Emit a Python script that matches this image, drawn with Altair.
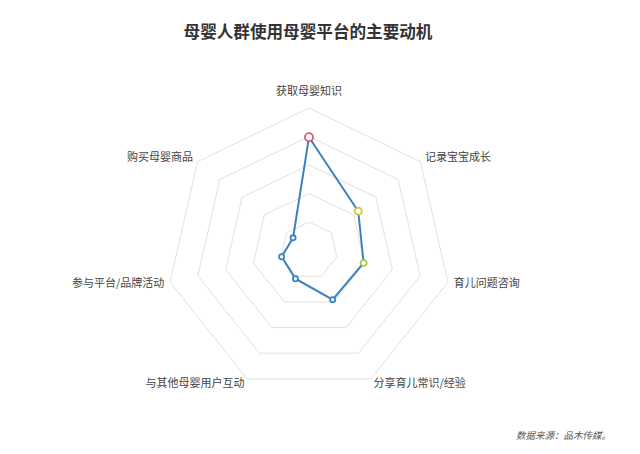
import altair as alt
import pandas as pd

# ---- data ----
categories = ["获取母婴知识", "记录宝宝成长", "育儿问题咨询", "分享育儿常识/经验",
              "与其他母婴用户互动", "参与平台/品牌活动", "购买母婴商品"]
values = [79.5, 44.2, 39.3, 38.3, 22.0, 19.7, 14.3]
marker_colors = ["#dc5a78", "#c9c93c", "#a9c94e", "#3b84c0", "#3b84c0", "#3b84c0", "#3b84c0"]
marker_sizes = [66, 50, 38, 26, 26, 26, 26]
ring_levels = [20, 40, 60, 80, 100]
title_text = "母婴人群使用母婴平台的主要动机"
source_text = "数据来源：品木传媒。"

N = len(categories)
MAXV = 100
FONT = "Noto Sans CJK SC"

series_df = pd.DataFrame({"cat": categories, "value": values, "idx": list(range(N)),
                          "mcolor": marker_colors, "msize": marker_sizes})
line_df = pd.concat([series_df, series_df.iloc[[0]].assign(idx=N)], ignore_index=True)
ring_df = pd.DataFrame([{"value": lv, "idx": i} for lv in ring_levels for i in range(N + 1)])
label_df = pd.DataFrame({"cat": categories, "idx": list(range(N)), "value": [MAXV * 1.042] * N})

W, H = 624, 438
CX, CY = 301, 242.5
U = MAXV / 142.5  # data units per pixel
xs = alt.Scale(domain=[-CX * U, (W - CX) * U], nice=False, zero=False)
ys = alt.Scale(domain=[-(H - CY) * U, CY * U], nice=False, zero=False)

xcalc = f"datum.value*sin(2*PI*datum.idx/{N})"
ycalc = f"datum.value*cos(2*PI*datum.idx/{N})"


def xy(ch):
    return ch.transform_calculate(px=xcalc, py=ycalc)


X = alt.X("px:Q", scale=xs, axis=None)
Y = alt.Y("py:Q", scale=ys, axis=None)

rings = xy(alt.Chart(ring_df)).mark_line(color="#e0e0e0", strokeWidth=1).encode(
    x=X, y=Y, detail="value:N", order="idx:Q")

line = xy(alt.Chart(line_df)).mark_line(color="#3a82bf", strokeWidth=2).encode(
    x=X, y=Y, order="idx:Q")

points = xy(alt.Chart(series_df)).mark_point(
    shape="circle", filled=False, fill="white", fillOpacity=1, strokeWidth=1.8, opacity=1
).encode(x=X, y=Y, stroke=alt.Stroke("mcolor:N", scale=None),
         size=alt.Size("msize:Q", scale=None))

lab_base = xy(alt.Chart(label_df)).transform_calculate(
    s=f"sin(2*PI*datum.idx/{N})",
    side="datum.s > 0.05 ? 'L' : (datum.s < -0.05 ? 'R' : 'C')")

lab_kw = dict(font=FONT, fontSize=11, color="#444444")
lab_L = lab_base.transform_filter("datum.side == 'L'").mark_text(
    align="left", baseline="middle", **lab_kw).encode(x=X, y=Y, text="cat:N")
lab_R = lab_base.transform_filter("datum.side == 'R'").mark_text(
    align="right", baseline="middle", **lab_kw).encode(x=X, y=Y, text="cat:N")
lab_C = lab_base.transform_filter("datum.side == 'C'").mark_text(
    align="center", baseline="bottom", dy=-5, **lab_kw).encode(x=X, y=Y, text="cat:N")

title = alt.Chart(pd.DataFrame({"t": [title_text]})).mark_text(
    font=FONT, fontSize=16.6, fontWeight="bold", color="#333333",
    align="center", baseline="middle").encode(
    text="t:N", x=alt.value(300), y=alt.value(25))

source = alt.Chart(pd.DataFrame({"t": [source_text]})).mark_text(
    font=FONT, fontSize=9.5, fontStyle="italic", color="#555555",
    align="right", baseline="middle").encode(
    text="t:N", x=alt.value(603), y=alt.value(428))

chart = alt.layer(rings, line, points, lab_L, lab_R, lab_C, title, source).properties(
    width=W, height=H, padding=0, autosize=alt.AutoSizeParams(type="none"),
    view=alt.ViewBackground(stroke="transparent", strokeWidth=0)
).configure_view(stroke="transparent", strokeWidth=0).configure(background="white")

chart.save("out.html", embed_options={"renderer": "svg", "actions": False})
